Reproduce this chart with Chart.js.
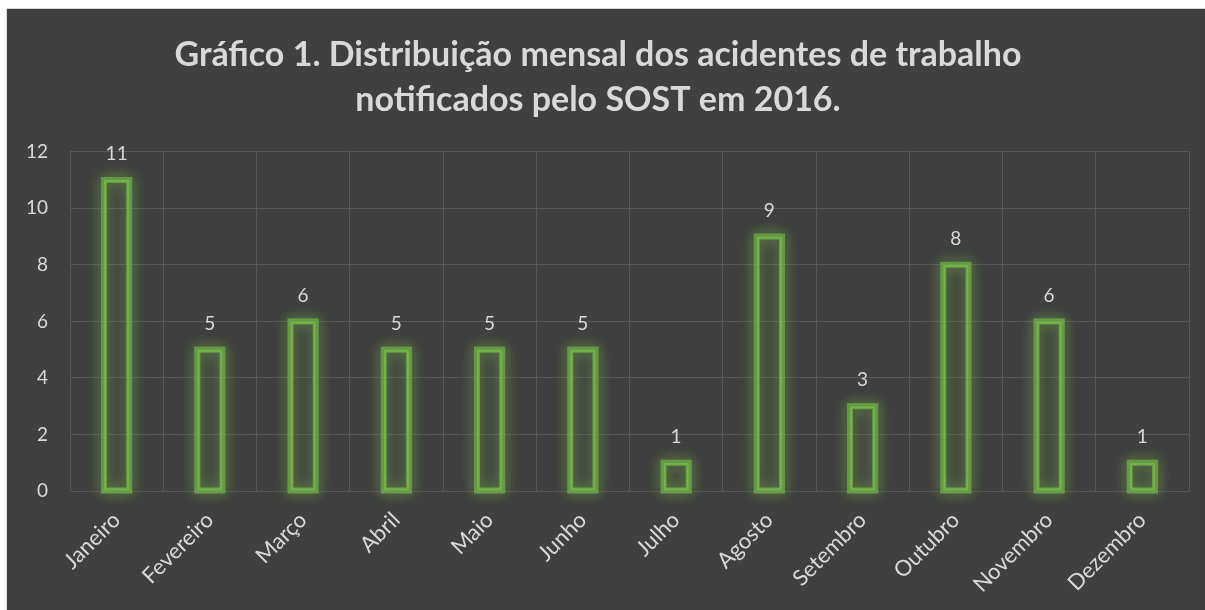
<!DOCTYPE html>
<html>
<head>
<meta charset="utf-8">
<script src="https://cdn.jsdelivr.net/npm/chart.js@4.4.1/dist/chart.umd.min.js"></script>
<style>
  html, body { margin: 0; padding: 0; background: #ffffff; }
  #wrap {
    position: absolute; left: 6px; top: 8px; width: 1199px; height: 602px;
    background: #404040; border-left: 1px solid #d9d9d9; border-top: 1px solid #d9d9d9;
  }
  #chart { display: block; }
</style>
</head>
<body>
<div id="wrap"><canvas id="chart" width="1198" height="601"></canvas></div>
<script>
const titleLines = ["Gráfico 1. Distribuição mensal dos acidentes de trabalho", "notificados pelo SOST em 2016."];
const meses = ["Janeiro", "Fevereiro", "Março", "Abril", "Maio", "Junho", "Julho", "Agosto", "Setembro", "Outubro", "Novembro", "Dezembro"];
const acidentes = [11, 5, 6, 5, 5, 5, 1, 9, 3, 8, 6, 1];
const yTicks = [0, 2, 4, 6, 8, 10, 12];

const textColor = "#d9d9d9";
const gridColor = "#585858";
const fontFamily = "Lato, 'Open Sans', sans-serif";

// glow around each bar
const glowPlugin = {
  id: "glow",
  beforeDatasetsDraw(chart) {
    const ctx = chart.ctx;
    const meta = chart.getDatasetMeta(0);
    ctx.save();
    ctx.shadowColor = "rgba(112,173,71,0.9)";
    ctx.shadowBlur = 14;
    ctx.strokeStyle = "rgba(112,173,71,0.5)";
    ctx.lineWidth = 6;
    meta.data.forEach(bar => {
      const p = bar.getProps(["x", "y", "base", "width"], true);
      ctx.strokeRect(p.x - p.width / 2, p.y, p.width, p.base - p.y);
      ctx.strokeRect(p.x - p.width / 2, p.y, p.width, p.base - p.y);
    });
    ctx.restore();
  }
};

// value labels above bars
const labelPlugin = {
  id: "valueLabels",
  afterDatasetsDraw(chart) {
    const ctx = chart.ctx;
    const meta = chart.getDatasetMeta(0);
    ctx.save();
    ctx.fillStyle = textColor;
    ctx.font = "19px " + fontFamily;
    ctx.textAlign = "center";
    ctx.textBaseline = "middle";
    meta.data.forEach((bar, i) => {
      ctx.fillText(String(acidentes[i]), bar.x, bar.y - 26);
    });
    ctx.restore();
  }
};

new Chart(document.getElementById("chart"), {
  type: "bar",
  data: {
    labels: meses,
    datasets: [{
      data: acidentes,
      backgroundColor: "rgba(0,0,0,0)",
      borderColor: "#74b54a",
      borderWidth: 2,
      borderSkipped: false,
      categoryPercentage: 1,
      barPercentage: 0.27
    }]
  },
  options: {
    responsive: false,
    animation: false,
    layout: { padding: { left: 0, right: 16, top: 0, bottom: 0 } },
    plugins: {
      legend: { display: false },
      tooltip: { enabled: false },
      title: {
        display: true,
        text: titleLines,
        color: textColor,
        font: { family: fontFamily, size: 34, weight: "bold", lineHeight: 1.32 },
        padding: { top: 24, bottom: 29 }
      }
    },
    scales: {
      x: {
        grid: { color: gridColor, drawTicks: false, offset: true },
        border: { color: gridColor },
        ticks: {
          color: textColor,
          font: { family: fontFamily, size: 22 },
          minRotation: 45,
          maxRotation: 45,
          padding: 16
        },
        afterFit(scale) { scale.height = 119; }
      },
      y: {
        min: 0,
        max: 12,
        afterBuildTicks(scale) { scale.ticks = yTicks.map(v => ({ value: v })); },
        grid: { color: gridColor, drawTicks: false },
        border: { display: false },
        ticks: {
          color: textColor,
          font: { family: fontFamily, size: 19 },
          padding: 22
        },
        afterFit(scale) { scale.width = 63; }
      }
    }
  },
  plugins: [glowPlugin, labelPlugin]
});
</script>
</body>
</html>
